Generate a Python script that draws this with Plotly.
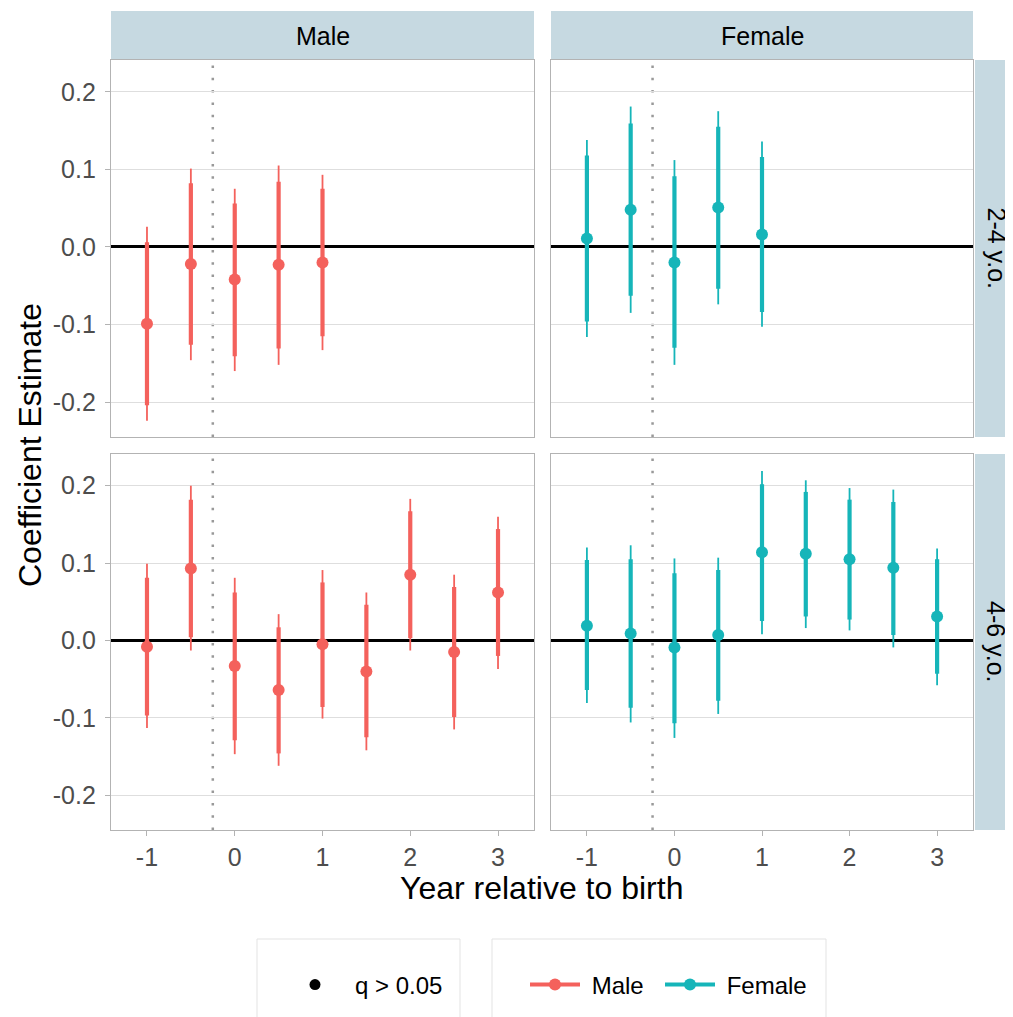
import plotly.graph_objects as go

# ---------------- data ----------------
years = [-1, -0.5, 0, 0.5, 1, 1.5, 2, 2.5, 3]

# Male, 2-4 y.o.
m24_x = [-1, -0.5, 0, 0.5, 1]
m24_est = [-0.099, -0.022, -0.042, -0.023, -0.020]
m24_lo90 = [-0.204, -0.126, -0.141, -0.131, -0.115]
m24_hi90 = [0.006, 0.082, 0.056, 0.084, 0.075]
m24_lo95 = [-0.224, -0.146, -0.160, -0.152, -0.133]
m24_hi95 = [0.026, 0.101, 0.075, 0.105, 0.093]

# Female, 2-4 y.o.
f24_x = [-1, -0.5, 0, 0.5, 1]
f24_est = [0.011, 0.048, -0.020, 0.051, 0.016]
f24_lo90 = [-0.096, -0.063, -0.130, -0.054, -0.084]
f24_hi90 = [0.118, 0.159, 0.091, 0.155, 0.116]
f24_lo95 = [-0.116, -0.085, -0.152, -0.074, -0.103]
f24_hi95 = [0.138, 0.181, 0.112, 0.175, 0.136]

# Male, 4-6 y.o.
m46_x = years
m46_est = [-0.008, 0.093, -0.033, -0.064, -0.005, -0.040, 0.085, -0.015, 0.062]
m46_lo90 = [-0.097, 0.004, -0.129, -0.146, -0.086, -0.125, 0.003, -0.099, -0.020]
m46_hi90 = [0.081, 0.182, 0.062, 0.017, 0.075, 0.046, 0.167, 0.069, 0.144]
m46_lo95 = [-0.113, -0.013, -0.147, -0.162, -0.101, -0.142, -0.013, -0.115, -0.037]
m46_hi95 = [0.099, 0.200, 0.081, 0.034, 0.091, 0.062, 0.183, 0.085, 0.160]

# Female, 4-6 y.o.
f46_x = years
f46_est = [0.019, 0.009, -0.009, 0.007, 0.114, 0.112, 0.105, 0.094, 0.031]
f46_lo90 = [-0.064, -0.087, -0.107, -0.078, 0.025, 0.031, 0.027, 0.007, -0.043]
f46_hi90 = [0.104, 0.105, 0.087, 0.091, 0.202, 0.192, 0.182, 0.179, 0.105]
f46_lo95 = [-0.081, -0.106, -0.126, -0.095, 0.008, 0.016, 0.013, -0.009, -0.058]
f46_hi95 = [0.120, 0.123, 0.106, 0.107, 0.219, 0.207, 0.197, 0.195, 0.119]

col_labels = ["Male", "Female"]
row_labels = ["2-4 y.o.", "4-6 y.o."]
y_ticks = [-0.2, -0.1, 0.0, 0.1, 0.2]
y_tick_text = ["-0.2", "-0.1", "0.0", "0.1", "0.2"]
x_ticks = [-1, 0, 1, 2, 3]
x_tick_text = ["-1", "0", "1", "2", "3"]
event_line = -0.25

RED = "#F4615C"
TEAL = "#16B5B9"

# the page body has an 8px margin: size the figure so it ends at the window edge
OFF = 8
W, H = 1013 - OFF, 1017 - OFF

fig = go.Figure()


def seg(xs, lo, hi):
    X, Y = [], []
    for x, a, b in zip(xs, lo, hi):
        X += [x, x, None]
        Y += [a, b, None]
    return X, Y


panels = [
    (m24_x, m24_est, m24_lo90, m24_hi90, m24_lo95, m24_hi95, RED, "x", "y"),
    (f24_x, f24_est, f24_lo90, f24_hi90, f24_lo95, f24_hi95, TEAL, "x2", "y2"),
    (m46_x, m46_est, m46_lo90, m46_hi90, m46_lo95, m46_hi95, RED, "x3", "y3"),
    (f46_x, f46_est, f46_lo90, f46_hi90, f46_lo95, f46_hi95, TEAL, "x4", "y4"),
]

for xs, est, lo90, hi90, lo95, hi95, c, xa, ya in panels:
    X, Y = seg(xs, lo95, hi95)
    fig.add_trace(go.Scatter(x=X, y=Y, mode="lines", line=dict(color=c, width=1.8),
                             xaxis=xa, yaxis=ya, showlegend=False, hoverinfo="skip"))
    X, Y = seg(xs, lo90, hi90)
    fig.add_trace(go.Scatter(x=X, y=Y, mode="lines", line=dict(color=c, width=4.2),
                             xaxis=xa, yaxis=ya, showlegend=False, hoverinfo="skip"))
    fig.add_trace(go.Scatter(x=xs, y=est, mode="markers", marker=dict(color=c, size=12),
                             xaxis=xa, yaxis=ya, showlegend=False))

# legend traces
fig.add_trace(go.Scatter(x=[None], y=[None], mode="markers", name="q > 0.05",
                         marker=dict(color="black", size=11), legend="legend"))
fig.add_trace(go.Scatter(x=[None], y=[None], mode="lines+markers", name="\u00a0Male",
                         line=dict(color=RED, width=4), marker=dict(color=RED, size=12),
                         legend="legend2"))
fig.add_trace(go.Scatter(x=[None], y=[None], mode="lines+markers", name="\u00a0Female",
                         line=dict(color=TEAL, width=4), marker=dict(color=TEAL, size=12),
                         legend="legend3"))


# reference pixel -> paper
def px(v):
    return (v - OFF) / W


def py(v):
    return 1 - (v - OFF) / H


xdom = [[px(111), px(534)], [px(551), px(973)]]
ydom = [[py(437), py(60)], [py(830), py(454)]]

XR = [-1.41, 3.41]
YR = [-0.245, 0.241]
GREY = "#B3B3B3"
TICKF = dict(family="Liberation Sans, Arial, sans-serif", size=25, color="#4D4D4D")

layout = dict(
    width=W, height=H,
    margin=dict(l=0, r=0, t=0, b=0),
    paper_bgcolor="white", plot_bgcolor="white",
    font=dict(family="Liberation Sans, Arial, sans-serif", color="black"),
)

axis_map = [("xaxis", "yaxis", 0, 0), ("xaxis2", "yaxis2", 0, 1),
            ("xaxis3", "yaxis3", 1, 0), ("xaxis4", "yaxis4", 1, 1)]
for i, (xk, yk, r, c) in enumerate(axis_map):
    yname = "y" if i == 0 else f"y{i+1}"
    xname = "x" if i == 0 else f"x{i+1}"
    layout[xk] = dict(domain=xdom[c], range=XR, anchor=yname, showgrid=False, zeroline=False,
                      showline=True, mirror=True, linecolor=GREY, linewidth=1.3,
                      tickvals=x_ticks, ticktext=x_tick_text,
                      showticklabels=(r == 1), ticks="outside" if r == 1 else "",
                      ticklen=5, tickwidth=1.3, tickcolor=GREY, tickfont=TICKF)
    layout[yk] = dict(domain=ydom[r], range=YR, anchor=xname, showgrid=True, gridcolor="#DEDEDE",
                      gridwidth=1.2, zeroline=True, zerolinecolor="black", zerolinewidth=2.6,
                      showline=True, mirror=True, linecolor=GREY, linewidth=1.3,
                      tickvals=y_ticks, ticktext=y_tick_text,
                      showticklabels=(c == 0), ticks="outside" if c == 0 else "",
                      ticklen=5, tickwidth=1.3, tickcolor=GREY, tickfont=TICKF,
                      ticklabelstandoff=4)

LEGF = dict(size=24, color="black")
layout["legend"] = dict(x=px(275), y=py(985), xanchor="left", yanchor="middle",
                        orientation="h", font=LEGF, bgcolor="rgba(0,0,0,0)", itemwidth=70)
layout["legend2"] = dict(x=px(525), y=py(985), xanchor="left", yanchor="middle",
                         orientation="h", font=LEGF, bgcolor="rgba(0,0,0,0)", itemwidth=50)
layout["legend3"] = dict(x=px(660), y=py(985), xanchor="left", yanchor="middle",
                         orientation="h", font=LEGF, bgcolor="rgba(0,0,0,0)", itemwidth=50)

fig.update_layout(**layout)

shapes = []
STRIP = "#C6D9E1"
# top strips
for c in range(2):
    shapes.append(dict(type="rect", xref="paper", yref="paper", x0=xdom[c][0], x1=xdom[c][1],
                       y0=py(59), y1=py(11), fillcolor=STRIP, line=dict(width=0), layer="below"))
# right strips
for r in range(2):
    shapes.append(dict(type="rect", xref="paper", yref="paper", x0=px(975), x1=1.0,
                       y0=ydom[r][0], y1=ydom[r][1], fillcolor=STRIP, line=dict(width=0), layer="below"))
# dotted vertical lines
for i in range(4):
    xr = "x" if i == 0 else f"x{i+1}"
    yr = "y domain" if i == 0 else f"y{i+1} domain"
    shapes.append(dict(type="line", xref=xr, yref=yr, x0=event_line, x1=event_line, y0=0, y1=1,
                       line=dict(color="#999999", width=2.5, dash="2.5px,9.8px"), layer="below"))
# legend boxes
shapes.append(dict(type="rect", xref="paper", yref="paper", x0=px(257), x1=px(460),
                   y0=-0.05, y1=py(939), line=dict(color="#E3E3E3", width=1), fillcolor="white",
                   layer="below"))
shapes.append(dict(type="rect", xref="paper", yref="paper", x0=px(492), x1=px(826),
                   y0=-0.05, y1=py(939), line=dict(color="#E3E3E3", width=1), fillcolor="white",
                   layer="below"))

annotations = []
for c in range(2):
    annotations.append(dict(text=col_labels[c], xref="paper", yref="paper",
                            x=(xdom[c][0] + xdom[c][1]) / 2, y=py(36), showarrow=False,
                            xanchor="center", yanchor="middle", font=dict(size=25, color="black")))
for r in range(2):
    annotations.append(dict(text=row_labels[r], xref="paper", yref="paper",
                            x=px(996), y=(ydom[r][0] + ydom[r][1]) / 2, showarrow=False,
                            textangle=90, xanchor="center", yanchor="middle",
                            font=dict(size=25, color="black")))
annotations.append(dict(text="Year relative to birth", xref="paper", yref="paper",
                        x=(xdom[0][0] + xdom[1][1]) / 2, y=py(888), showarrow=False,
                        xanchor="center", yanchor="middle", font=dict(size=32, color="black")))
annotations.append(dict(text="Coefficient Estimate", xref="paper", yref="paper",
                        x=px(30), y=(ydom[1][0] + ydom[0][1]) / 2, showarrow=False, textangle=-90,
                        xanchor="center", yanchor="middle", font=dict(size=32, color="black")))

fig.update_layout(shapes=shapes, annotations=annotations)

fig.write_html("out.html")
